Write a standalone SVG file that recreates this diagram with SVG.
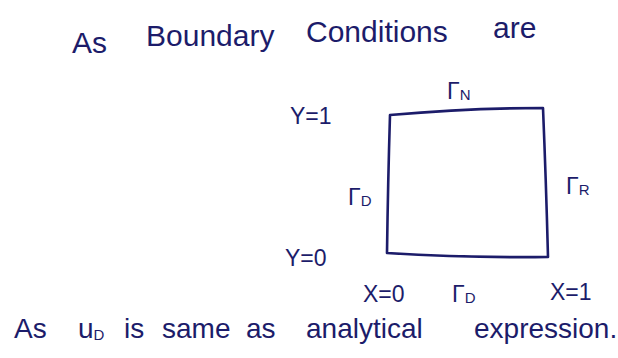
<svg xmlns="http://www.w3.org/2000/svg" width="618" height="358" viewBox="0 0 618 358">
<style>
text{font-family:"Liberation Sans","DejaVu Sans",sans-serif;fill:#1c1c6a}
.h{font-size:30px}
.l{font-size:23px}
.s{font-size:15px}
.b{font-size:28px}
</style>
<rect width="618" height="358" fill="#ffffff"/>
<g id="title">
<text class="h" y="53"><tspan x="72">As</tspan><tspan x="146" y="46">Boundary</tspan><tspan x="306" y="42">Conditions</tspan><tspan x="493" y="38">are</tspan></text>
</g>
<g id="domain">
<path d="M390,115 Q470,108 543,108 Q546,180 548,257 Q470,258 387,253 Q388,180 390,115 Z" fill="none" stroke="#1c1c6a" stroke-width="2.6" stroke-linejoin="round"/>
</g>
<g id="labels">
<text class="l" x="447" y="99">Γ<tspan class="s" dy="1">N</tspan></text>
<text class="l" x="290" y="124">Y=1</text>
<text class="l" x="348" y="205">Γ<tspan class="s" dy="1">D</tspan></text>
<text class="l" x="566" y="194">Γ<tspan class="s" dy="1">R</tspan></text>
<text class="l" x="285" y="266">Y=0</text>
<text class="l" x="363" y="302">X=0</text>
<text class="l" x="452" y="302">Γ<tspan class="s" dy="1">D</tspan></text>
<text class="l" x="550" y="300">X=1</text>
</g>
<g id="note">
<text class="b" y="338"><tspan x="14">As</tspan><tspan x="78">u</tspan><tspan class="s" dy="2">D</tspan><tspan x="124" dy="-2">is</tspan><tspan x="162">same</tspan><tspan x="246">as</tspan><tspan x="306">analytical</tspan><tspan x="474">expression.</tspan></text>
</g>
</svg>
